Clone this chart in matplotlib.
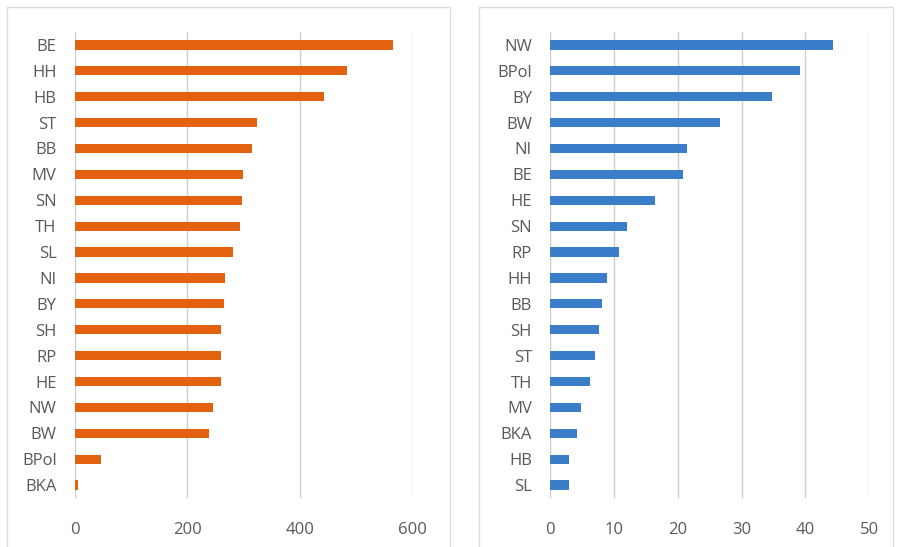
import matplotlib
matplotlib.use("Agg")
import matplotlib.pyplot as plt
from matplotlib.patches import Rectangle

# Left chart data (top to bottom)
left_cats = ["BE", "HH", "HB", "ST", "BB", "MV", "SN", "TH", "SL", "NI",
             "BY", "SH", "RP", "HE", "NW", "BW", "BPol", "BKA"]
left_vals = [566, 485, 444, 324, 316, 300, 298, 294, 282, 267,
             265, 261, 261, 261, 246, 239, 46, 5]
left_ticks = [0, 200, 400, 600]

# Right chart data (top to bottom)
right_cats = ["NW", "BPol", "BY", "BW", "NI", "BE", "HE", "SN", "RP", "HH",
              "BB", "SH", "ST", "TH", "MV", "BKA", "HB", "SL"]
right_vals = [44.3, 39.1, 34.7, 26.6, 21.4, 20.8, 16.5, 12.0, 10.8, 8.9,
              8.1, 7.7, 7.1, 6.3, 4.8, 4.2, 3.0, 2.9]
right_ticks = [0, 10, 20, 30, 40, 50]

W, H = 899, 547
fig = plt.figure(figsize=(W / 100, H / 100), dpi=100)
fig.patch.set_facecolor("white")
plt.rcParams["font.family"] = ["Open Sans", "DejaVu Sans"]

text_color = "#595959"
grid_color = "#cfcfcf"


def px_rect(x0, y0, x1, y1):
    return [x0 / W, 1 - y1 / H, (x1 - x0) / W, (y1 - y0) / H]


# panel frames
for (x0, y0, x1, y1) in [(7, 7, 450, 548), (479, 7, 893, 548)]:
    fig.patches.append(Rectangle((x0 / W, 1 - y1 / H), (x1 - x0) / W, (y1 - y0) / H,
                                 transform=fig.transFigure, fill=False,
                                 edgecolor="#dcdcdc", linewidth=1.0))


def draw(ax, cats, vals, ticks, color):
    n = len(cats)
    pos = list(range(n))
    ax.barh(pos, vals, height=0.36, color=color, zorder=3)
    ax.set_ylim(n - 0.5, -0.5)
    ax.set_xlim(ticks[0], ticks[-1])
    ax.set_yticks(pos)
    ax.set_yticklabels(cats, fontsize=12, color=text_color)
    ax.set_xticks(ticks)
    ax.set_xticklabels([str(t) for t in ticks], fontsize=12, color=text_color)
    ax.tick_params(axis="both", length=0)
    ax.tick_params(axis="y", pad=13)
    ax.tick_params(axis="x", pad=17)
    for s in ax.spines.values():
        s.set_visible(False)
    ax.grid(axis="x", color=grid_color, linewidth=1.0, zorder=0)
    ax.set_facecolor("none")


ax1 = fig.add_axes(px_rect(74.7, 32, 412, 498))
draw(ax1, left_cats, left_vals, left_ticks, "#E2620F")

ax2 = fig.add_axes(px_rect(550, 32, 869.3, 498))
draw(ax2, right_cats, right_vals, right_ticks, "#3A7DC9")

fig.savefig("out.png", dpi=100, facecolor="white")
